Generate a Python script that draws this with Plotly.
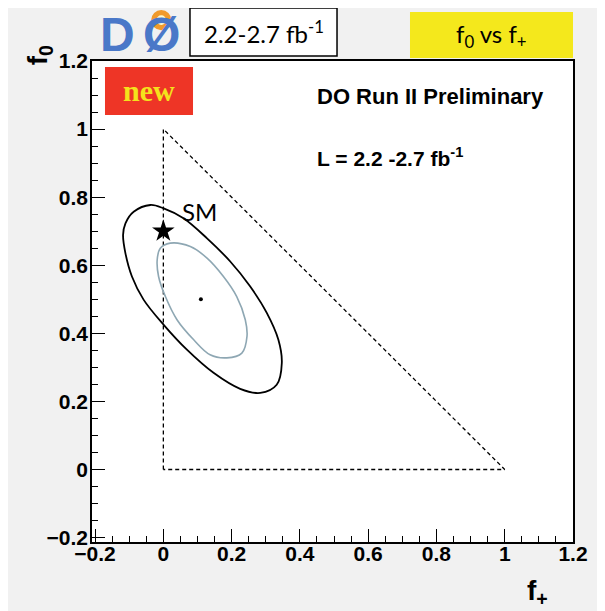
import plotly.graph_objects as go

# 95% contour (outer, black)
outer_fplus = [0.001, -0.038, -0.087, -0.111, -0.118, -0.111, -0.092, -0.058, 0.001, 0.069,
               0.147, 0.225, 0.284, 0.332, 0.347, 0.337, 0.303, 0.254, 0.196, 0.128, 0.059, 0.001]
outer_f0 = [0.767, 0.777, 0.757, 0.723, 0.689, 0.635, 0.567, 0.499, 0.425, 0.352,
            0.284, 0.237, 0.225, 0.249, 0.313, 0.381, 0.460, 0.538, 0.611, 0.679, 0.738, 0.767]

# 68% contour (inner, grey-blue)
inner_fplus = [0.020, -0.009, -0.018, -0.014, 0.006, 0.040, 0.089, 0.137, 0.186, 0.230,
               0.245, 0.240, 0.215, 0.176, 0.128, 0.079, 0.020]
inner_f0 = [0.665, 0.650, 0.616, 0.567, 0.508, 0.440, 0.381, 0.337, 0.328, 0.342,
            0.391, 0.440, 0.508, 0.567, 0.621, 0.655, 0.665]

# physical region f0 + f+ <= 1
triangle_fplus = [0, 0, 1, 0]
triangle_f0 = [0, 1, 0, 0]

sm_point = (0.0, 0.70)
best_fit = (0.11, 0.50)

fig = go.Figure()

fig.add_trace(go.Scatter(x=triangle_fplus, y=triangle_f0, mode="lines",
                         line=dict(color="black", width=1.3, dash="4px,3px"),
                         hoverinfo="skip"))
fig.add_trace(go.Scatter(x=outer_fplus, y=outer_f0, mode="lines",
                         line=dict(color="black", width=1.8, shape="spline"),
                         hoverinfo="skip"))
fig.add_trace(go.Scatter(x=inner_fplus, y=inner_f0, mode="lines",
                         line=dict(color="#8ea7b3", width=1.6, shape="spline"),
                         hoverinfo="skip"))
fig.add_trace(go.Scatter(x=[best_fit[0]], y=[best_fit[1]], mode="markers",
                         marker=dict(color="black", size=4)))
fig.add_trace(go.Scatter(x=[sm_point[0]], y=[sm_point[1]], mode="markers",
                         marker=dict(color="black", size=17, symbol="star")))

# header decorations (paper coordinates)
shapes = [
    dict(type="rect", xref="paper", yref="paper", x0=0.2037, x1=0.5094, y0=1.0104, y1=1.1102,
         line=dict(color="black", width=1.5), fillcolor="white"),
    dict(type="rect", xref="paper", yref="paper", x0=0.6611, x1=1.0, y0=1.0062, y1=1.1019,
         line=dict(width=0), fillcolor="#f4e81c"),
    dict(type="rect", xref="paper", yref="paper", x0=0.027, x1=0.21, y0=0.8877, y1=0.9875,
         line=dict(width=0), fillcolor="#ee3526"),
]

logo = [
    dict(text="<b>D</b>", xref="paper", yref="paper", x=0.052, y=1.056, showarrow=False,
         font=dict(family="Liberation Sans", size=48, color="#4a78c8"), xanchor="center", yanchor="middle"),
    dict(text="<b>Ø</b>", xref="paper", yref="paper", x=0.144, y=1.056, showarrow=False,
         font=dict(family="Liberation Sans", size=48, color="#4a78c8"), xanchor="center", yanchor="middle"),
]
burst = [
    dict(type="circle", xref="paper", yref="paper", x0=0.123, x1=0.165, y0=1.064, y1=1.106,
         line=dict(width=0), fillcolor="#f09a2c"),
    dict(type="circle", xref="paper", yref="paper", x0=0.134, x1=0.154, y0=1.075, y1=1.095,
         line=dict(width=0), fillcolor="#fffbd0"),
]

annotations = logo + [
    dict(text="2.2-2.7 fb<sup>-1</sup>", xref="paper", yref="paper", x=0.357, y=1.06, showarrow=False,
         font=dict(family="Lato", size=24, color="black"), xanchor="center", yanchor="middle"),
    dict(text="f<sub>0</sub> vs f<sub>+</sub>", xref="paper", yref="paper", x=0.83, y=1.054, showarrow=False,
         font=dict(family="Lato", size=24, color="black"), xanchor="center", yanchor="middle"),
    dict(text="<b>new</b>", xref="paper", yref="paper", x=0.1185, y=0.938, showarrow=False,
         font=dict(family="Liberation Serif", size=30, color="#f4e21c"), xanchor="center", yanchor="middle"),
    dict(text="<b>DO Run II Preliminary</b>", x=0.444, y=1.095, showarrow=False,
         font=dict(family="Liberation Sans", size=22, color="black"), xanchor="left", yanchor="middle"),
    dict(text="<b>L = 2.2 -2.7 fb<sup>-1</sup></b>", x=0.444, y=0.918, showarrow=False,
         font=dict(family="Liberation Sans", size=21, color="black"), xanchor="left", yanchor="middle"),
    dict(text="SM", x=0.049, y=0.757, showarrow=False,
         font=dict(family="Lato", size=24, color="black"), xanchor="left", yanchor="middle"),
    dict(text="<b>f<sub>+</sub></b>", xref="paper", yref="paper", x=0.927, y=-0.105, showarrow=False,
         font=dict(family="Liberation Sans", size=28, color="black"), xanchor="center", yanchor="middle"),
    dict(text="<b>f<sub>0</sub></b>", xref="paper", yref="paper", x=-0.11, y=1.012, showarrow=False,
         textangle=-90, font=dict(family="Liberation Sans", size=28, color="black"),
         xanchor="center", yanchor="middle"),
]

# page body has an 8px margin, so the plot margins are offset by that
fig.update_layout(
    width=605, height=611,
    margin=dict(l=84, r=40, t=53, b=77),
    paper_bgcolor="#f1f1f1",
    plot_bgcolor="white",
    showlegend=False,
    shapes=shapes + burst,
    annotations=annotations,
)

axis_style = dict(
    showgrid=False, zeroline=False,
    showline=True, mirror=True, linecolor="black", linewidth=1.5,
    ticks="inside", ticklen=13, tickwidth=1.3, tickcolor="black",
    dtick=0.2, tick0=0,
    minor=dict(ticks="inside", ticklen=6, tickwidth=1.3, tickcolor="black", dtick=0.05, tick0=0),
    tickfont=dict(family="Liberation Sans", size=21, color="black", weight="bold"),
)

fig.update_xaxes(range=[-0.209, 1.2], ticklabelstandoff=-8, **axis_style)
fig.update_yaxes(range=[-0.213, 1.2], ticklabelstandoff=-2, **axis_style)

fig.write_html("out.html")
